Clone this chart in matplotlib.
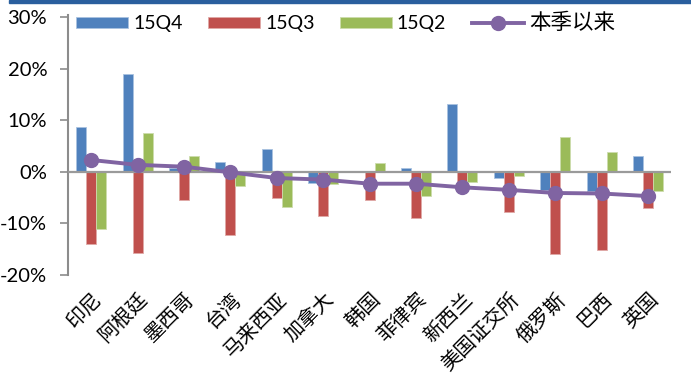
import numpy as np
import matplotlib
matplotlib.use("Agg")
import matplotlib.pyplot as plt
from matplotlib.patches import Rectangle

plt.rcParams['font.family'] = ['Lato', 'Noto Sans CJK SC', 'DejaVu Sans']

categories = ['印尼', '阿根廷', '墨西哥', '台湾', '马来西亚', '加拿大', '韩国',
              '菲律宾', '新西兰', '美国证交所', '俄罗斯', '巴西', '英国']
q4 = [8.7, 19.0, 0.7, 1.9, 4.4, -2.2, 0.0, 0.8, 13.1, -1.1, -3.6, -3.7, 3.0]
q3 = [-14.0, -15.8, -5.4, -12.2, -5.1, -8.6, -5.4, -8.9, -3.6, -7.8, -16.0, -15.1, -7.0]
q2 = [-11.0, 7.6, 3.1, -2.8, -6.8, -2.3, 1.7, -4.7, -1.9, -0.9, 6.8, 3.8, -3.7]
since = [2.3, 1.35, 1.0, -0.1, -1.2, -1.5, -2.3, -2.3, -3.0, -3.5, -4.1, -4.2, -4.7]
series_names = ['15Q4', '15Q3', '15Q2', '本季以来']
yticks = [-20, -10, 0, 10, 20, 30]

blue, red, green, purple = '#4F81BD', '#C0504D', '#9BBB59', '#8064A2'

fig = plt.figure(figsize=(6.91, 3.76), dpi=100)
ax = fig.add_axes([0.0984, 0.2686, 0.873, 0.686])

x = np.arange(len(categories))
w = 0.216
b1 = ax.bar(x - w, q4, w, color=blue, edgecolor='#a9c2e0', linewidth=0.6, label=series_names[0], zorder=2)
b2 = ax.bar(x, q3, w, color=red, edgecolor='#e0a9a7', linewidth=0.6, label=series_names[1], zorder=2)
b3 = ax.bar(x + w, q2, w, color=green, edgecolor='#cddcad', linewidth=0.6, label=series_names[2], zorder=2)
ax.axhline(0, color='#9a9a9a', linewidth=1.6, zorder=3)
ln, = ax.plot(x, since, color=purple, linewidth=2.8, marker='o', markersize=10,
              label=series_names[3], zorder=4)

ax.set_xlim(-0.5, len(categories) - 0.5)
ax.set_ylim(-20, 30)
ax.set_yticks(yticks)
ax.set_yticklabels([f'{t}%' for t in yticks], fontsize=14.5)
ax.tick_params(axis='y', length=6, width=1.2, color='#8c8c8c', pad=9)
ax.set_xticks(x)
ax.set_xticklabels(categories, rotation=45, ha='right', va='top',
                   rotation_mode='anchor', fontsize=14.5, weight='light',
                   family=['Noto Sans CJK SC', 'DejaVu Sans'])
ax.tick_params(axis='x', length=0, pad=10)

for s in ['top', 'right', 'bottom']:
    ax.spines[s].set_visible(False)
ax.spines['left'].set_color('#8c8c8c')
ax.spines['left'].set_linewidth(1.5)
ax.spines['left'].set_bounds(-20, 30.4)

leg = ax.legend([b1, b2, b3, ln], series_names, ncol=4, loc='upper left',
                bbox_to_anchor=(8 / 603, 1.0155), frameon=False,
                borderaxespad=0, borderpad=0,
                handlelength=2.68, handleheight=0.55, columnspacing=1.3,
                handletextpad=0.26, prop={'family': ['Lato', 'Noto Sans CJK SC'], 'size': 14})
leg.get_texts()[3].set_fontsize(15.5)
leg.get_texts()[3].set_fontweight('light')

# header bar at the top
fig.add_artist(Rectangle((9 / 691, 1 - 3 / 376), 1, 3 / 376, transform=fig.transFigure,
                         color='#2a5f9e', zorder=5))

fig.savefig('out.png', dpi=100)
